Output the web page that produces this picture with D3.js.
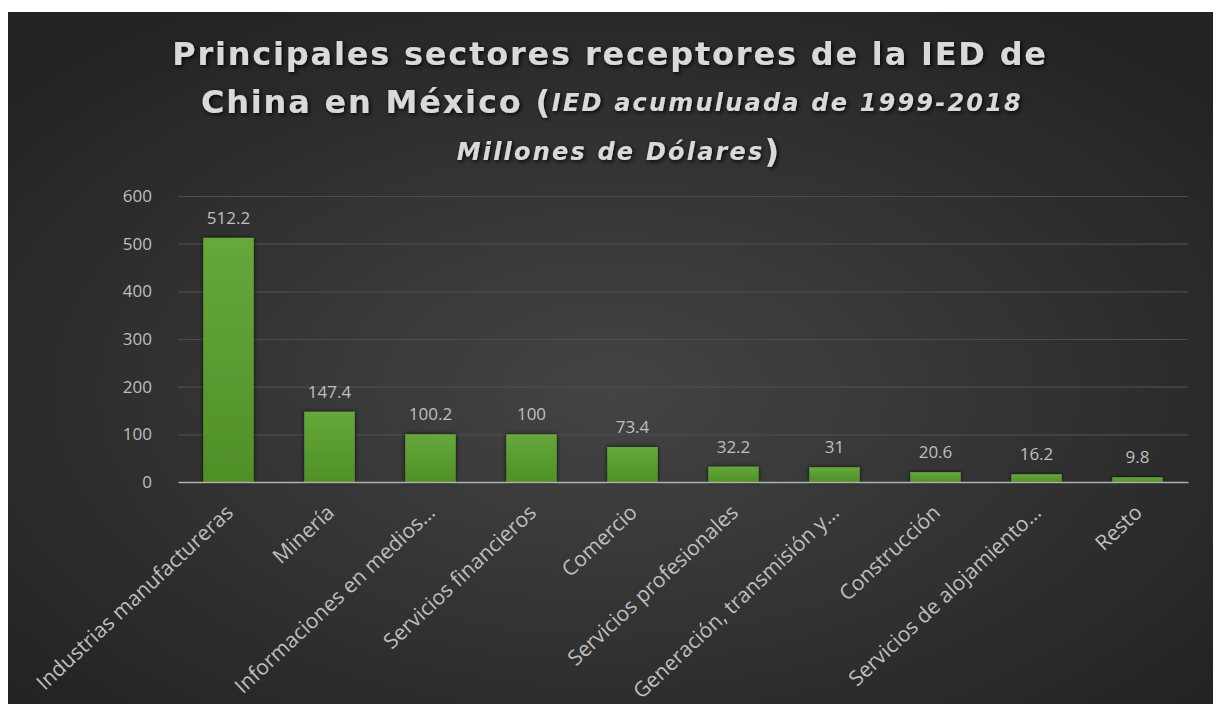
<!DOCTYPE html>
<html>
<head>
<meta charset="utf-8">
<script src="https://cdn.jsdelivr.net/npm/d3@7"></script>
<style>
  body { margin: 0; background: #ffffff; }
  svg { display: block; }
  .tick text { font-family: "Open Sans", sans-serif; }
</style>
</head>
<body>
<div id="chart"></div>
<script>
// sectors and cumulative FDI (millions of dollars)
const sectors = [
  "Industrias manufactureras",
  "Minería",
  "Informaciones en medios…",
  "Servicios financieros",
  "Comercio",
  "Servicios profesionales",
  "Generación, transmisión y…",
  "Construcción",
  "Servicios de alojamiento…",
  "Resto"
];
const values = [512.2, 147.4, 100.2, 100, 73.4, 32.2, 31, 20.6, 16.2, 9.8];
const yTicks = [0, 100, 200, 300, 400, 500, 600];

const W = 1221, H = 704;
const panel = {x: 8, y: 12, w: 1205, h: 692};
const margin = {top: 196, left: 178, right: 33, bottom: 222};
const width = W - margin.left - margin.right;
const height = H - margin.top - margin.bottom;

const svg = d3.select("#chart").append("svg")
    .attr("width", W).attr("height", H);

const defs = svg.append("defs");

// dark radial background
const bg = defs.append("radialGradient").attr("id", "bg")
    .attr("cx", "50%").attr("cy", "55%").attr("r", "65%");
bg.append("stop").attr("offset", "0%").attr("stop-color", "#444444");
bg.append("stop").attr("offset", "100%").attr("stop-color", "#232323");

const barGrad = defs.append("linearGradient").attr("id", "bar")
    .attr("x1", 0).attr("y1", 0).attr("x2", 0).attr("y2", 1);
barGrad.append("stop").attr("offset", "0%").attr("stop-color", "#66a83b");
barGrad.append("stop").attr("offset", "100%").attr("stop-color", "#4f9027");

const shadow = defs.append("filter").attr("id", "shadow")
    .attr("x", "-30%").attr("y", "-30%").attr("width", "160%").attr("height", "160%");
shadow.append("feDropShadow").attr("dx", 0).attr("dy", 0)
    .attr("stdDeviation", 2).attr("flood-color", "#000").attr("flood-opacity", 0.8);

const tshadow = defs.append("filter").attr("id", "tshadow")
    .attr("x", "-5%").attr("y", "-30%").attr("width", "110%").attr("height", "160%");
tshadow.append("feDropShadow").attr("dx", 1.5).attr("dy", 1.5)
    .attr("stdDeviation", 2).attr("flood-color", "#000").attr("flood-opacity", 0.9);

svg.append("rect")
    .attr("x", panel.x).attr("y", panel.y)
    .attr("width", panel.w).attr("height", panel.h)
    .attr("fill", "url(#bg)");

// title
const title = svg.append("g")
    .attr("fill", "#d9d9d9")
    .attr("font-family", "'DejaVu Sans', Verdana, sans-serif")
    .attr("font-weight", "bold")
    .attr("text-anchor", "middle")
    .attr("filter", "url(#tshadow)");

title.append("text").attr("x", 610).attr("y", 65)
    .attr("font-size", 32).attr("letter-spacing", 1.8)
    .text("Principales sectores receptores de la IED de");

const t2 = title.append("text").attr("x", 612).attr("y", 113)
    .attr("font-size", 32).attr("letter-spacing", 1.8);
t2.append("tspan").text("China en México (");
t2.append("tspan").attr("font-size", 24).attr("font-style", "italic")
    .attr("letter-spacing", 2.2).attr("dy", -2).text("IED acumuluada de 1999-2018");

const t3 = title.append("text").attr("x", 619).attr("y", 160)
    .attr("letter-spacing", 2.2);
t3.append("tspan").attr("font-size", 24).attr("font-style", "italic")
    .text("Millones de Dólares");
t3.append("tspan").attr("font-size", 32).attr("dy", 2).text(")");

const g = svg.append("g")
    .attr("transform", `translate(${margin.left},${margin.top})`);

const x = d3.scaleBand().domain(sectors).range([0, width]).paddingInner(0.5).paddingOuter(0.25);
const y = d3.scaleLinear().domain([0, 600]).range([height, 0]);

// gridlines
g.append("g")
    .call(d3.axisLeft(y).tickValues(yTicks.slice(1)).tickSize(-width).tickFormat(""))
    .call(s => s.select(".domain").remove())
    .call(s => s.selectAll("line").attr("stroke", "#4d4d4d").attr("stroke-width", 1.2));

// y axis labels
g.append("g")
    .call(d3.axisLeft(y).tickValues(yTicks).tickSize(0).tickPadding(26))
    .call(s => s.select(".domain").remove())
    .call(s => s.selectAll("text").attr("fill", "#bfbfbf").attr("font-size", 17));

// bars
g.selectAll("rect.bar").data(values).join("rect")
    .attr("class", "bar")
    .attr("x", (d, i) => x(sectors[i]))
    .attr("y", d => y(d))
    .attr("width", x.bandwidth())
    .attr("height", d => y(0) - y(d))
    .attr("fill", "url(#bar)")
    .attr("filter", "url(#shadow)");

// value labels
g.selectAll("text.val").data(values).join("text")
    .attr("class", "val")
    .attr("x", (d, i) => x(sectors[i]) + x.bandwidth() / 2)
    .attr("y", d => y(d) - 14)
    .attr("text-anchor", "middle")
    .attr("fill", "#bfbfbf")
    .attr("font-family", "'Open Sans', sans-serif")
    .attr("font-size", 17)
    .text(d => d);

// x axis
const xg = g.append("g")
    .attr("transform", `translate(0,${height})`)
    .call(d3.axisBottom(x).tickSize(0).tickSizeOuter(0));
xg.select(".domain").attr("stroke", "#b0b0b0").attr("stroke-width", 1.5);
xg.selectAll("text")
    .attr("fill", "#bfbfbf")
    .attr("font-size", 21)
    .attr("text-anchor", "end")
    .attr("dy", 0)
    .attr("transform", "translate(4,30) rotate(-43)");
</script>
</body>
</html>
